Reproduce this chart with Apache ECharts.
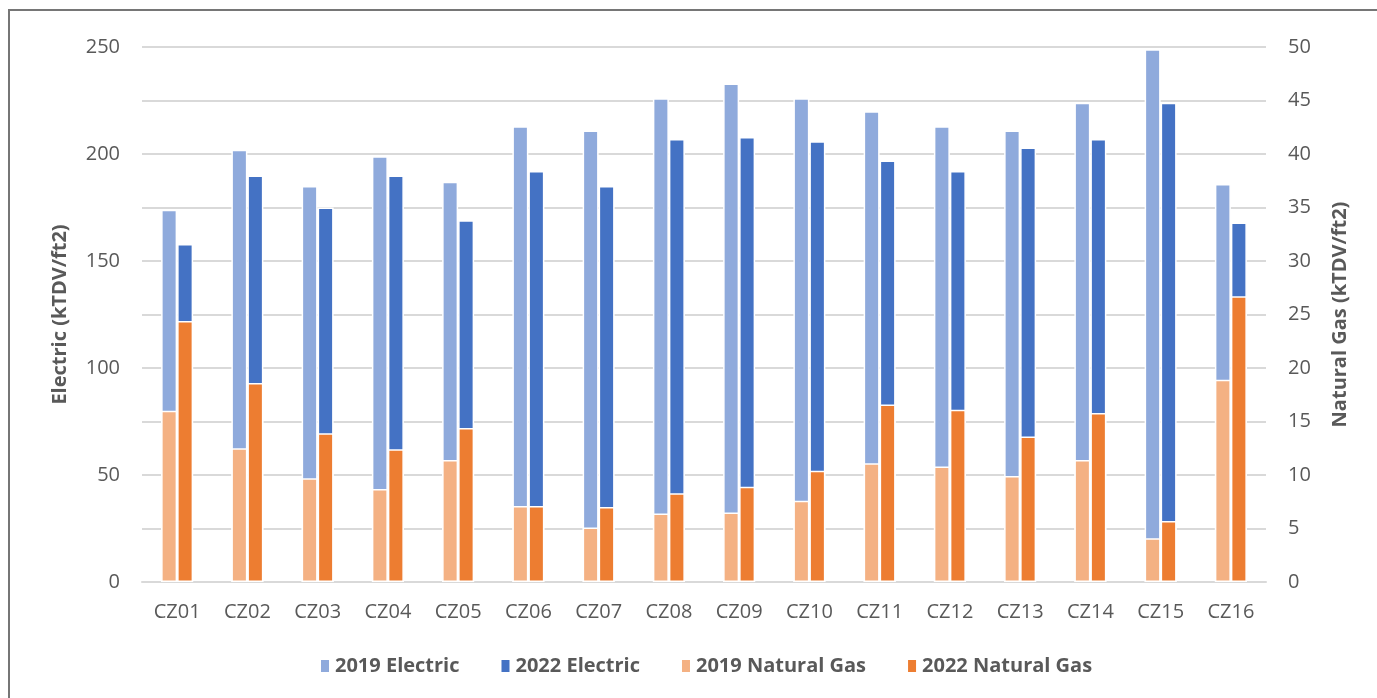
<!DOCTYPE html>
<html>
<head>
<meta charset="utf-8">
<script src="https://cdn.jsdelivr.net/npm/echarts@6/dist/echarts.min.js"></script>
<style>
  html, body { margin: 0; padding: 0; background: #fff; }
  #chart { width: 1377px; height: 698px; }
</style>
</head>
<body>
<div id="chart"></div>
<script>
// Climate zones
const zones = ['CZ01','CZ02','CZ03','CZ04','CZ05','CZ06','CZ07','CZ08',
               'CZ09','CZ10','CZ11','CZ12','CZ13','CZ14','CZ15','CZ16'];

// Electric TDV (kTDV/ft2), left axis
const electric2019 = [174, 202, 185, 199, 187, 213, 211, 226, 233, 226, 220, 213, 211, 224, 249, 186];
const electric2022 = [158, 190, 175, 190, 169, 192, 185, 207, 208, 206, 197, 192, 203, 207, 224, 168];

// Natural gas TDV (kTDV/ft2), right axis
const gas2019 = [16.0, 12.5, 9.7, 8.7, 11.4, 7.1, 5.1, 6.4, 6.5, 7.6, 11.1, 10.8, 9.9, 11.4, 4.1, 18.9];
const gas2022 = [24.4, 18.6, 13.9, 12.4, 14.4, 7.1, 7.0, 8.3, 8.9, 10.4, 16.6, 16.1, 13.6, 15.8, 5.7, 26.7];

const FONT = '"Open Sans", "Noto Sans", sans-serif';
const TEXT = '#595959';
const GRID = '#d9d9d9';

const chart = echarts.init(document.getElementById('chart'), null, { renderer: 'canvas' });

function barSeries(name, data, color, xi, yi) {
  return {
    name: name,
    type: 'bar',
    xAxisIndex: xi,
    yAxisIndex: yi,
    data: data,
    barWidth: 16,
    barGap: '0%',
    itemStyle: { color: color, borderColor: '#ffffff', borderWidth: 1.5 },
    emphasis: { disabled: true }
  };
}

chart.setOption({
  animation: false,
  backgroundColor: '#ffffff',
  textStyle: { fontFamily: FONT },
  graphic: [{
    type: 'rect',
    shape: { x: 9, y: 10, width: 1420, height: 720 },
    style: { fill: 'none', stroke: '#767676', lineWidth: 2 },
    silent: true,
    z: 100
  }],
  grid: { left: 142, right: 111, top: 47, bottom: 116, containLabel: false },
  legend: {
    bottom: 17,
    left: 314,
    itemWidth: 10,
    itemHeight: 14,
    itemGap: 40,
    icon: 'rect',
    textStyle: { color: TEXT, fontSize: 20, fontWeight: 'bold', fontFamily: FONT },
    data: ['2019 Electric', '2022 Electric', '2019 Natural Gas', '2022 Natural Gas']
  },
  xAxis: [
    {
      type: 'category',
      data: zones,
      axisLine: { lineStyle: { color: GRID, width: 2 } },
      axisTick: { show: false },
      axisLabel: { color: TEXT, fontSize: 20, margin: 20, fontFamily: FONT }
    },
    {
      type: 'category',
      data: zones,
      show: false
    }
  ],
  yAxis: [
    {
      type: 'value',
      min: 0, max: 250, interval: 25,
      name: 'Electric (kTDV/ft2)',
      nameLocation: 'middle',
      nameRotate: 90,
      nameGap: 72,
      nameTextStyle: { color: TEXT, fontSize: 20, fontWeight: 'bold', fontFamily: FONT },
      axisLine: { show: false },
      axisTick: { show: false },
      axisLabel: {
        color: TEXT, fontSize: 20, margin: 22, fontFamily: FONT,
        formatter: v => (v % 50 === 0 ? String(v) : '')
      },
      splitLine: { lineStyle: { color: GRID, width: 2 } }
    },
    {
      type: 'value',
      min: 0, max: 50, interval: 5,
      position: 'right',
      name: 'Natural Gas (kTDV/ft2)',
      nameLocation: 'middle',
      nameRotate: 90,
      nameGap: 64,
      nameTextStyle: { color: TEXT, fontSize: 20, fontWeight: 'bold', fontFamily: FONT },
      axisLine: { show: false },
      axisTick: { show: false },
      axisLabel: { color: TEXT, fontSize: 20, margin: 22, fontFamily: FONT },
      splitLine: { show: false }
    }
  ],
  series: [
    barSeries('2019 Electric', electric2019, '#8faadc', 0, 0),
    barSeries('2022 Electric', electric2022, '#4472c4', 0, 0),
    barSeries('2019 Natural Gas', gas2019, '#f4b183', 1, 1),
    barSeries('2022 Natural Gas', gas2022, '#ed7d31', 1, 1)
  ]
});
</script>
</body>
</html>
